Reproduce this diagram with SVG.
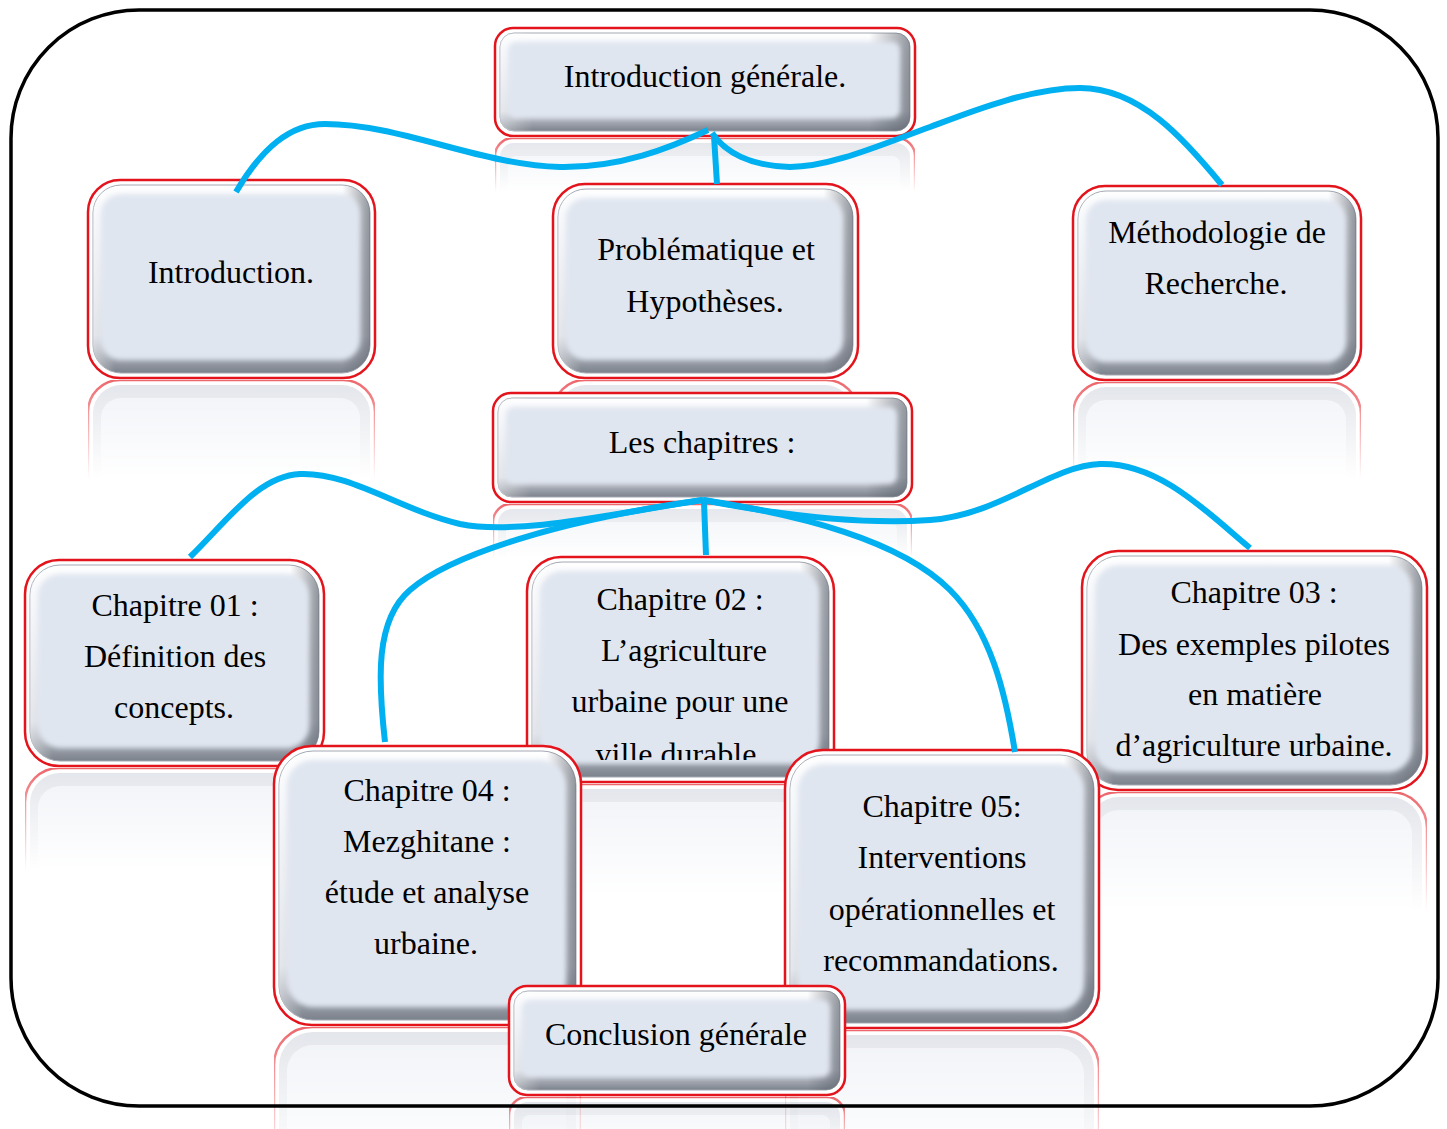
<svg xmlns="http://www.w3.org/2000/svg" width="1447" height="1129" viewBox="0 0 1447 1129">
<style>
.o{fill:#ffffff;stroke:#e3141c;stroke-width:2.5}
.b{fill:url(#bevV);stroke:#a3a8b2;stroke-width:1}
.bs{fill:url(#bevH);stroke:none}
.f{fill:#e0e6f0;filter:url(#soft)}
.t{font-family:"Liberation Serif","Times New Roman",serif;font-size:32px;fill:#000;text-anchor:middle}
.ro{fill:#ffffff;stroke:#e3141c;stroke-width:2.5}
.rb{fill:#d3d7df}
.rf{fill:#e8ecf3}
.c{fill:none;stroke:#00b0f0;stroke-width:6}
</style>
<defs>
<linearGradient id="bevV" x1="0" y1="0" x2="0" y2="1">
<stop offset="0" stop-color="#ffffff"/>
<stop offset="0.15" stop-color="#f3f5f9"/>
<stop offset="0.8" stop-color="#d3d7df"/>
<stop offset="1" stop-color="#7c828c"/>
</linearGradient>
<linearGradient id="bevH" x1="0" y1="0" x2="1" y2="0">
<stop offset="0" stop-color="#ffffff" stop-opacity="0.4"/>
<stop offset="0.08" stop-color="#ffffff" stop-opacity="0"/>
<stop offset="0.9" stop-color="#5a606a" stop-opacity="0"/>
<stop offset="1" stop-color="#5a606a" stop-opacity="0.65"/>
</linearGradient>
<linearGradient id="fadeG" x1="0" y1="0" x2="0" y2="1">
<stop offset="0" stop-color="#ffffff" stop-opacity="0.65"/>
<stop offset="0.5" stop-color="#ffffff" stop-opacity="0"/>
</linearGradient>
<mask id="fade" maskContentUnits="objectBoundingBox">
<rect x="0" y="0" width="1" height="1" fill="url(#fadeG)"/>
</mask>
<filter id="soft" x="-5%" y="-5%" width="110%" height="110%">
<feGaussianBlur stdDeviation="2.5"/>
</filter>
<clipPath id="clip2"><rect x="527" y="557" width="307" height="203"/></clipPath>
</defs>

<rect id="frame-bg" x="11" y="10" width="1427" height="1096" rx="128" fill="#ffffff"/>

<g id="reflections">
<g mask="url(#fade)"><rect class="ro" x="495" y="138" width="420" height="108" rx="18"/><rect class="rb" x="500" y="143" width="410" height="98" rx="14"/><rect class="rf" x="508" y="156" width="392" height="76" rx="8"/></g>
<g mask="url(#fade)"><rect class="ro" x="88" y="380" width="287" height="198" rx="32"/><rect class="rb" x="93" y="385" width="277" height="188" rx="28"/><rect class="rf" x="101" y="398" width="259" height="166" rx="20"/></g>
<g mask="url(#fade)"><rect class="ro" x="553" y="380" width="305" height="194" rx="32"/><rect class="rb" x="558" y="385" width="295" height="184" rx="28"/><rect class="rf" x="566" y="398" width="277" height="162" rx="20"/></g>
<g mask="url(#fade)"><rect class="ro" x="1073" y="382" width="288" height="194" rx="32"/><rect class="rb" x="1078" y="387" width="278" height="184" rx="28"/><rect class="rf" x="1086" y="400" width="260" height="162" rx="20"/></g>
<g mask="url(#fade)"><rect class="ro" x="493" y="504" width="419" height="109" rx="18"/><rect class="rb" x="498" y="509" width="409" height="99" rx="14"/><rect class="rf" x="506" y="522" width="391" height="77" rx="8"/></g>
<g mask="url(#fade)"><rect class="ro" x="25" y="768" width="299" height="206" rx="34"/><rect class="rb" x="30" y="773" width="289" height="196" rx="30"/><rect class="rf" x="38" y="786" width="271" height="174" rx="22"/></g>
<g mask="url(#fade)"><rect class="ro" x="527" y="784" width="307" height="225" rx="34"/><rect class="rb" x="532" y="789" width="297" height="215" rx="30"/><rect class="rf" x="540" y="802" width="279" height="193" rx="22"/></g>
<g mask="url(#fade)"><rect class="ro" x="1082" y="792" width="345" height="239" rx="36"/><rect class="rb" x="1087" y="797" width="335" height="229" rx="32"/><rect class="rf" x="1095" y="810" width="317" height="207" rx="24"/></g>
<g mask="url(#fade)"><rect class="ro" x="274" y="1027" width="307" height="279" rx="38"/><rect class="rb" x="279" y="1032" width="297" height="269" rx="34"/><rect class="rf" x="287" y="1045" width="279" height="247" rx="26"/></g>
<g mask="url(#fade)"><rect class="ro" x="785" y="1030" width="314" height="278" rx="38"/><rect class="rb" x="790" y="1035" width="304" height="268" rx="34"/><rect class="rf" x="798" y="1048" width="286" height="246" rx="26"/></g>
<g mask="url(#fade)"><rect class="ro" x="509" y="1097" width="336" height="109" rx="18"/><rect class="rb" x="514" y="1102" width="326" height="99" rx="14"/><rect class="rf" x="522" y="1115" width="308" height="77" rx="8"/></g>
</g>

<rect id="frame" x="11" y="10" width="1427" height="1096" rx="128" fill="none" stroke="#000000" stroke-width="3.5"/>

<g id="intro-generale">
<rect class="o" x="495" y="28" width="420" height="108" rx="18"/>
<rect class="b" x="500" y="33" width="410" height="98" rx="14"/>
<rect class="bs" x="500" y="33" width="410" height="98" rx="14"/>
<rect class="f" x="508" y="42" width="392" height="76" rx="8"/>
<text class="t" x="705" y="87">Introduction générale.</text>
</g>

<g id="introduction">
<rect class="o" x="88" y="180" width="287" height="198" rx="32"/>
<rect class="b" x="93" y="185" width="277" height="188" rx="28"/>
<rect class="bs" x="93" y="185" width="277" height="188" rx="28"/>
<rect class="f" x="101" y="194" width="259" height="166" rx="20"/>
<text class="t" x="231" y="283">Introduction.</text>
</g>

<g id="problematique">
<rect class="o" x="553" y="184" width="305" height="194" rx="32"/>
<rect class="b" x="558" y="189" width="295" height="184" rx="28"/>
<rect class="bs" x="558" y="189" width="295" height="184" rx="28"/>
<rect class="f" x="566" y="198" width="277" height="162" rx="20"/>
<text class="t" x="706" y="260">Problématique et</text>
<text class="t" x="705" y="312">Hypothèses.</text>
</g>

<g id="methodologie">
<rect class="o" x="1073" y="186" width="288" height="194" rx="32"/>
<rect class="b" x="1078" y="191" width="278" height="184" rx="28"/>
<rect class="bs" x="1078" y="191" width="278" height="184" rx="28"/>
<rect class="f" x="1086" y="200" width="260" height="162" rx="20"/>
<text class="t" x="1217" y="243">Méthodologie de</text>
<text class="t" x="1216" y="294">Recherche.</text>
</g>

<g id="les-chapitres">
<rect class="o" x="493" y="393" width="419" height="109" rx="18"/>
<rect class="b" x="498" y="398" width="409" height="99" rx="14"/>
<rect class="bs" x="498" y="398" width="409" height="99" rx="14"/>
<rect class="f" x="506" y="407" width="391" height="77" rx="8"/>
<text class="t" x="702" y="453">Les chapitres :</text>
</g>

<g id="chapitre-01">
<rect class="o" x="25" y="560" width="299" height="206" rx="34"/>
<rect class="b" x="30" y="565" width="289" height="196" rx="30"/>
<rect class="bs" x="30" y="565" width="289" height="196" rx="30"/>
<rect class="f" x="38" y="574" width="271" height="174" rx="22"/>
<text class="t" x="175" y="616">Chapitre 01 :</text>
<text class="t" x="175" y="667">Définition des</text>
<text class="t" x="174" y="718">concepts.</text>
</g>

<g id="chapitre-02">
<rect class="o" x="527" y="557" width="307" height="225" rx="34"/>
<rect class="b" x="532" y="562" width="297" height="215" rx="30"/>
<rect class="bs" x="532" y="562" width="297" height="215" rx="30"/>
<rect class="f" x="540" y="571" width="279" height="193" rx="22"/>
<g clip-path="url(#clip2)">
<text class="t" x="680" y="610">Chapitre 02 :</text>
<text class="t" x="684" y="661">L’agriculture</text>
<text class="t" x="680" y="712">urbaine pour une</text>
<text class="t" x="680" y="765">ville durable.</text>
</g>
</g>

<g id="chapitre-03">
<rect class="o" x="1082" y="551" width="345" height="239" rx="36"/>
<rect class="b" x="1087" y="556" width="335" height="229" rx="32"/>
<rect class="bs" x="1087" y="556" width="335" height="229" rx="32"/>
<rect class="f" x="1095" y="565" width="317" height="207" rx="24"/>
<text class="t" x="1254" y="603">Chapitre 03 :</text>
<text class="t" x="1254" y="655">Des exemples pilotes</text>
<text class="t" x="1255" y="705">en matière</text>
<text class="t" x="1254" y="756">d’agriculture urbaine.</text>
</g>

<g id="chapitre-04">
<rect class="o" x="274" y="746" width="307" height="279" rx="38"/>
<rect class="b" x="279" y="751" width="297" height="269" rx="34"/>
<rect class="bs" x="279" y="751" width="297" height="269" rx="34"/>
<rect class="f" x="287" y="760" width="279" height="247" rx="26"/>
<text class="t" x="427" y="801">Chapitre 04 :</text>
<text class="t" x="427" y="852">Mezghitane :</text>
<text class="t" x="427" y="903">étude et analyse</text>
<text class="t" x="426" y="954">urbaine.</text>
</g>

<g id="chapitre-05">
<rect class="o" x="785" y="750" width="314" height="278" rx="38"/>
<rect class="b" x="790" y="755" width="304" height="268" rx="34"/>
<rect class="bs" x="790" y="755" width="304" height="268" rx="34"/>
<rect class="f" x="798" y="764" width="286" height="246" rx="26"/>
<text class="t" x="942" y="817">Chapitre 05:</text>
<text class="t" x="942" y="868">Interventions</text>
<text class="t" x="942" y="920">opérationnelles et</text>
<text class="t" x="941" y="971">recommandations.</text>
</g>

<g id="conclusion">
<rect class="o" x="509" y="986" width="336" height="109" rx="18"/>
<rect class="b" x="514" y="991" width="326" height="99" rx="14"/>
<rect class="bs" x="514" y="991" width="326" height="99" rx="14"/>
<rect class="f" x="522" y="1000" width="308" height="77" rx="8"/>
<text class="t" x="676" y="1045">Conclusion générale</text>
</g>

<g id="connectors">
<path class="c" d="M236,192 C262,148 290,124 325,124 C400,124 480,165 560,167 C620,168 670,148 708,130"/>
<path class="c" d="M717,184 L714,136"/>
<path class="c" d="M712,133 C725,152 750,166 790,167 C830,167 880,145 930,127 C970,112 1030,88 1080,88 C1140,88 1185,140 1222,185"/>
<path class="c" d="M190,557 C228,520 258,476 300,474 C350,472 400,510 460,524 C520,536 620,512 703,500"/>
<path class="c" d="M385,742 C378,680 375,620 410,590 C450,555 560,520 703,500"/>
<path class="c" d="M706,555 L704,502"/>
<path class="c" d="M703,500 C800,515 900,540 950,590 C990,630 1005,690 1015,752"/>
<path class="c" d="M703,500 C780,515 860,525 930,520 C1000,515 1050,466 1100,464 C1160,462 1210,515 1250,548"/>
</g>
</svg>
